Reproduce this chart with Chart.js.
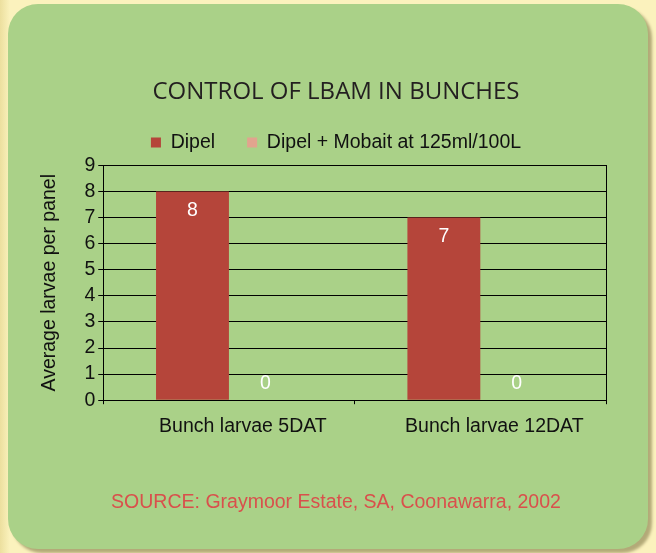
<!DOCTYPE html>
<html>
<head>
<meta charset="utf-8">
<script src="https://cdn.jsdelivr.net/npm/chart.js@4/dist/chart.umd.min.js"></script>
<style>
  html, body { margin: 0; padding: 0; }
  body {
    width: 656px; height: 553px; overflow: hidden; position: relative;
    background: linear-gradient(90deg, #ecdf9e 0px, #fbf2bd 10px, #fbf2bd 100%);
  }
  .panel {
    position: absolute; left: 8px; top: 4px; width: 640px; height: 545px;
    background: #aad188; border-radius: 30px;
    box-shadow: 4px 4px 3px #b3aa78;
  }
  #wrap { position: absolute; left: 0; top: 0; width: 656px; height: 553px; }
</style>
</head>
<body>
<div class="panel"></div>
<div id="wrap"><canvas id="chart"></canvas></div>
<script>
// 데이터
const categories = ['Bunch larvae 5DAT', 'Bunch larvae 12DAT'];
const dipel      = [8, 7];
const dipelMob   = [0, 0];
const seriesNames = ['Dipel', 'Dipel + Mobait at 125ml/100L'];
const yTicks     = [0, 1, 2, 3, 4, 5, 6, 7, 8, 9];

const TXT = '#111111';
const ARIAL = "'Liberation Sans', Arial, sans-serif";
const FS = 19.5;

// 막대 안쪽 끝에 값 표시
const barValues = {
  id: 'barValues',
  afterDatasetsDraw(chart) {
    const ctx = chart.ctx;
    ctx.save();
    ctx.fillStyle = '#ffffff';
    ctx.font = FS + 'px ' + ARIAL;
    ctx.textAlign = 'center';
    ctx.textBaseline = 'middle';
    chart.data.datasets.forEach((ds, i) => {
      chart.getDatasetMeta(i).data.forEach((bar, j) => {
        const v = ds.data[j];
        const y = v > 0 ? bar.y + 19 : bar.y - 17;
        ctx.fillText(String(v), bar.x, y);
      });
    });
    ctx.restore();
  },
};

new Chart(document.getElementById('chart'), {
  type: 'bar',
  data: {
    labels: categories,
    datasets: [
      { label: seriesNames[0], data: dipel,    backgroundColor: '#b5453a' },
      { label: seriesNames[1], data: dipelMob, backgroundColor: '#e1a48e' },
    ],
  },
  options: {
    responsive: true,
    maintainAspectRatio: false,
    animation: false,
    categoryPercentage: 0.58,
    barPercentage: 1,
    layout: { padding: { left: 58, right: 42, top: 0, bottom: 39 } },
    plugins: {
      title: {
        display: true,
        text: 'CONTROL OF LBAM IN BUNCHES',
        color: '#231f20',
        font: { family: "'Open Sans', sans-serif", size: 24, weight: 'normal' },
        padding: { top: 78, bottom: -6 },
      },
      subtitle: {
        display: true,
        position: 'bottom',
        text: 'SOURCE: Graymoor Estate, SA, Coonawarra, 2002',
        color: '#d9504c',
        font: { family: ARIAL, size: FS },
        padding: { top: 41, bottom: 0 },
      },
      legend: {
        position: 'top',
        labels: {
          color: TXT,
          font: { family: ARIAL, size: FS },
          boxWidth: 10, boxHeight: 10,
          padding: 32,
        },
      },
      tooltip: { enabled: false },
    },
    scales: {
      x: {
        offset: true,
        grid: { display: true, drawOnChartArea: false, color: '#000', tickLength: 4 },
        border: { color: '#000' },
        ticks: { color: TXT, font: { family: ARIAL, size: FS }, padding: 11, labelOffset: 14 },
      },
      // 범례와 그림 영역 사이 여백
      xTop: {
        type: 'category',
        position: 'top',
        grid: { display: true, drawOnChartArea: false, color: 'transparent', tickLength: 3 },
        border: { display: false },
        ticks: { display: false },
      },
      y: {
        min: 0, max: 9,
        afterBuildTicks: s => { s.ticks = yTicks.map(v => ({ value: v })); },
        grid: { color: '#000', tickLength: 5 },
        border: { color: '#000' },
        ticks: { color: TXT, font: { family: ARIAL, size: FS }, padding: 3, autoSkip: false },
        title: {
          display: true,
          text: 'Average larvae per panel',
          color: TXT,
          font: { family: ARIAL, size: FS },
          padding: { top: -20, bottom: 20 },
        },
      },
      y2: {
        position: 'right',
        min: 0, max: 9,
        grid: { display: false },
        border: { display: true, color: '#000' },
        ticks: { display: false },
      },
    },
  },
  plugins: [barValues],
});
</script>
</body>
</html>
